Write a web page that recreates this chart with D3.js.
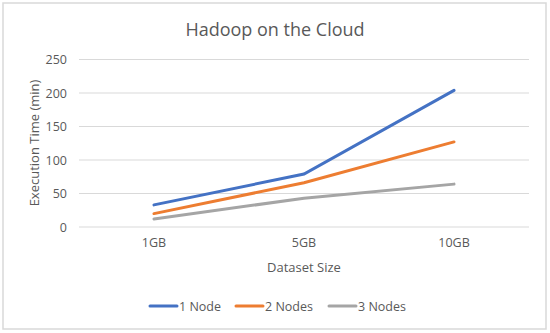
<!DOCTYPE html>
<html><head><meta charset="utf-8">
<script src="https://cdn.jsdelivr.net/npm/d3@7"></script>
<style>body{margin:0;background:#fff}svg{display:block}text{font-family:"Open Sans","Noto Sans",sans-serif;fill:#595959}</style>
</head><body><svg id="c" width="550" height="333"></svg>
<script>
const categories = ["1GB","5GB","10GB"];
const seriesNames = ["1 Node","2 Nodes","3 Nodes"];
const node1 = [33,79,204];
const node2 = [20,66,127];
const node3 = [12,43,64];
const yTicks = [0,50,100,150,200,250];
const colors = ["#4472c4","#ed7d31","#a5a5a5"];
const series = [node1,node2,node3];

const svg = d3.select("#c");
svg.append("rect").attr("x",3).attr("y",3).attr("width",543).attr("height",326)
  .attr("fill","#fff").attr("stroke","#d9d9d9").attr("stroke-width",1.5);

const x = d3.scaleBand().domain(categories).range([79,529]);
const y = d3.scaleLinear().domain([0,250]).range([227,59.5]);

const grid = svg.append("g");
grid.selectAll("line").data(yTicks).join("line")
  .attr("x1",79).attr("x2",529).attr("y1",d=>y(d)).attr("y2",d=>y(d))
  .attr("stroke","#d9d9d9").attr("stroke-width",1);

const yAxis = svg.append("g").attr("transform","translate(72,0)")
  .call(d3.axisLeft(y).tickValues(yTicks).tickSize(0).tickPadding(5));
yAxis.select(".domain").remove();
yAxis.selectAll("text").style("font-size","12.5px").attr("fill","#595959");

const xAxis = svg.append("g").attr("transform","translate(0,238)")
  .call(d3.axisBottom(x).tickSize(0).tickPadding(0));
xAxis.select(".domain").remove();
xAxis.selectAll("text").style("font-size","12.5px").attr("fill","#595959");

const line = d3.line().x((d,i)=>x(categories[i])+x.bandwidth()/2).y(d=>y(d));
series.forEach((s,i)=>{
  svg.append("path").datum(s).attr("d",line).attr("fill","none")
    .attr("stroke",colors[i]).attr("stroke-width",3).attr("stroke-linecap","round");
});

svg.append("text").attr("x",275).attr("y",36).attr("text-anchor","middle")
  .style("font-size","18px").text("Hadoop on the Cloud");
svg.append("text").attr("transform","translate(39,143) rotate(-90)").attr("text-anchor","middle")
  .style("font-size","13px").text("Execution Time (min)");
svg.append("text").attr("x",304).attr("y",272).attr("text-anchor","middle")
  .style("font-size","13px").text("Dataset Size");

const legX = [150,236,329];
const leg = svg.append("g");
seriesNames.forEach((n,i)=>{
  leg.append("line").attr("x1",legX[i]).attr("x2",legX[i]+27).attr("y1",306).attr("y2",306)
    .attr("stroke",colors[i]).attr("stroke-width",3).attr("stroke-linecap","round");
  leg.append("text").attr("x",legX[i]+29).attr("y",310.5).style("font-size","12.5px").text(n);
});
</script></body></html>
